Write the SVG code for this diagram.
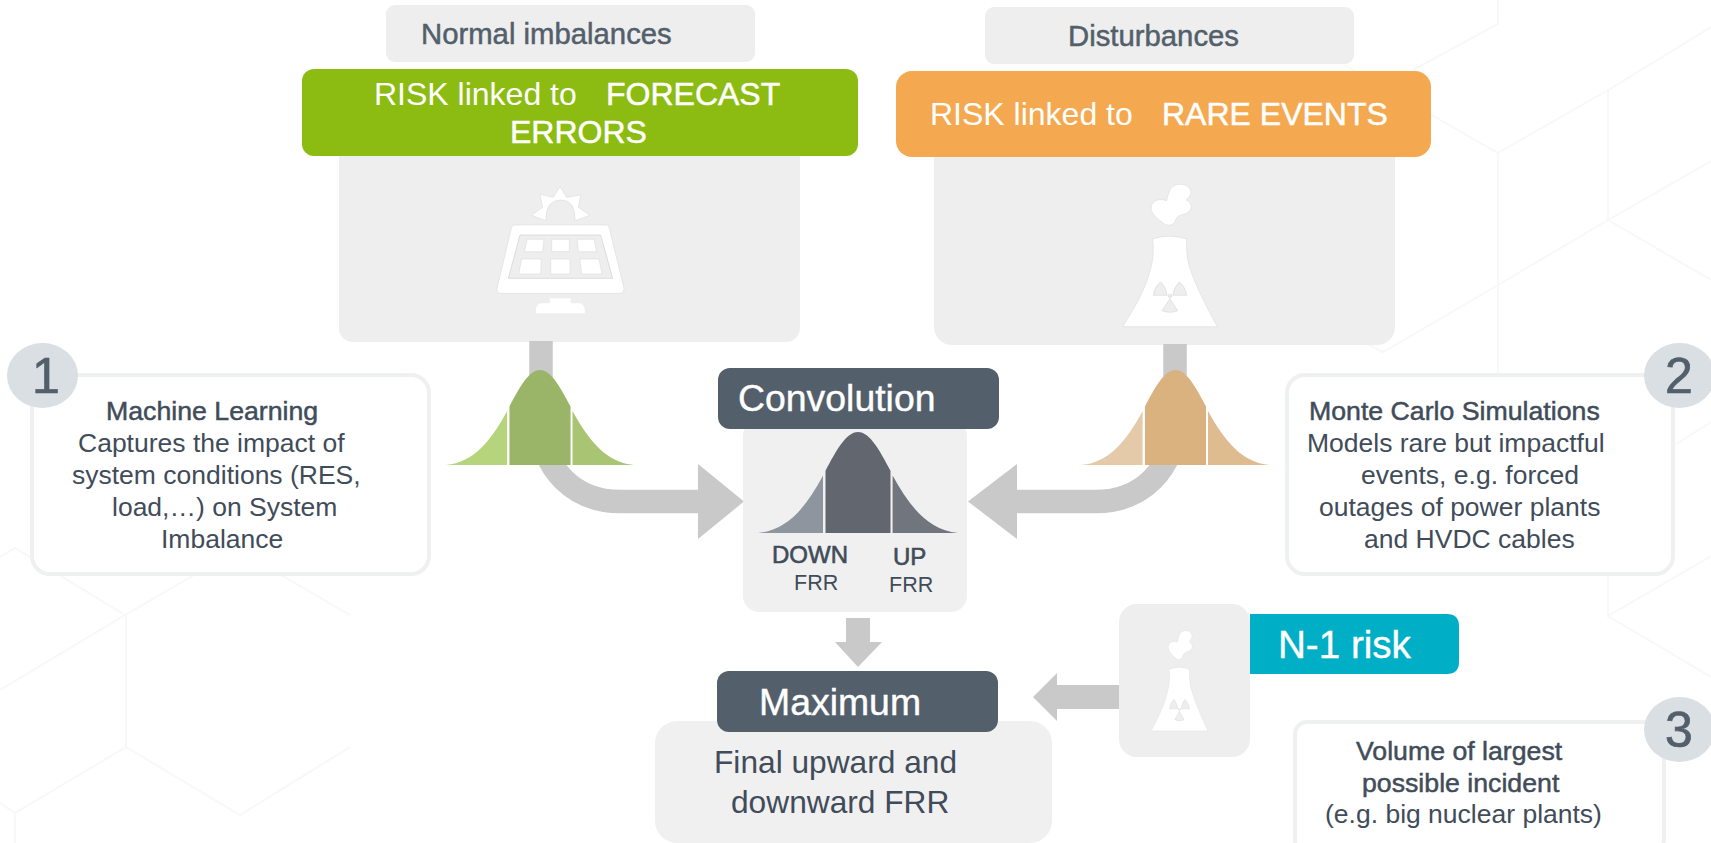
<svg xmlns="http://www.w3.org/2000/svg" xmlns:xlink="http://www.w3.org/1999/xlink" width="1711" height="843" viewBox="0 0 1711 843">
<style>
text{font-family:"Liberation Sans",Arial,sans-serif;white-space:pre}
.hex{fill:none;stroke:#f8f8f8;stroke-width:2}
.panel{fill:#eeeeee}
.panel2{fill:#f0f0f0}
.dark{fill:#535f6b}
.card{fill:#fff;stroke:#eff0f0;stroke-width:4}
.badge{fill:#d9dfe2}
.num{font-size:50px;fill:#535f6b;stroke:#535f6b;stroke-width:.7}
.w32{font-size:32px;fill:#fff}
.wb{stroke:#fff;stroke-width:.5}
.hd{font-size:37.400px;fill:#fff;stroke:#fff;stroke-width:.4}
.sub{font-size:29.300px;fill:#535f6b;stroke:#535f6b;stroke-width:.5}
.t{font-size:26.500px;fill:#414c5a}
.tb{font-size:26.700px;fill:#414c5a;stroke:#414c5a;stroke-width:.5}
.big{font-size:31.700px;fill:#414c5a}
.lab{font-size:24px;fill:#414c5a;stroke:#414c5a;stroke-width:.6}
.frr{font-size:21.500px;fill:#414c5a}
.band{fill:none;stroke:#c9c9c9;stroke-width:23.500}
.head{fill:#c9c9c9}
.ico{fill:#fff;stroke:#d6d6d6;stroke-width:1.500}
.cut{fill:#eeeeee;stroke:#d0d0d0;stroke-width:1.500}
</style>
<defs>
<path id="bl" d="M-100 0C-70-3-52-26-35-57.500V0Z"/>
<path id="bc" d="M-32.500 0V-62.200C-22-82-12-101 0-101S22-82 32.500-62.200V0Z"/>
<path id="br" d="M100 0C70-3 52-26 34.600-57.500V0Z"/>
<g id="nuke">
<path class="ico" d="M180 60C185 45 205 40 225 45C245 52 250 75 228 90C250 100 250 125 220 133C200 138 198 145 195 155C190 168 165 170 155 155C135 140 118 125 125 105C130 90 150 85 170 92C172 80 175 70 180 60Z"/>
<path class="ico" d="M128 207Q178 190 230 207C228 240 232 280 245 310C265 365 295 420 322 470H38C70 420 105 360 118 310C130 275 132 240 128 207Z"/>
<path class="cut" d="M130 376Q133 350 152 336Q168 350 172 376Z"/>
<path class="cut" d="M188 376Q192 350 208 336Q226 350 230 376Z"/>
<path class="cut" d="M180 386L203 422Q180 432 156 422Z"/>
<circle class="cut" cx="180" cy="378" r="5"/>
</g>
</defs>
<rect width="1711" height="843" fill="#fff"/>
<g id="background">
<path class="hex" d="M0 557L15 548L125 615L194 575M281 575L350 615M125 615L0 690M126 615V747L15 813V843M0 803L15 813M126 747L240 815L350 747"/>
<path class="hex" d="M1498 0V24L1413 70M1711 27L1610 89L1498 153L1344 65M1498 153V374M1608 89V220L1711 161M1608 220L1498 285L1383 352L1367 344M1608 220L1711 280M1673 446L1711 422M1608 575V616L1711 556M1608 616L1711 677"/>
</g>
<g id="panel-solar"><rect class="panel" x="339" y="120" width="461" height="222" rx="14"/></g>
<g id="panel-nuclear"><rect class="panel" x="934" y="120" width="461" height="225" rx="18"/></g>
<g id="connectors">
<path class="band" d="M541 341V420C541 470 575 501.500 620 501.500H700"/>
<polygon class="head" points="698,464 744,501.500 698,539"/>
<path class="band" d="M1175 344V420C1175 470 1141 501.500 1096 501.500H1015"/>
<polygon class="head" points="1017,464 968,501.500 1017,539"/>
<polygon class="head" points="846,618 870,618 870,642 882,642 858,667 835,642 846,642"/>
<polygon class="head" points="1119,685 1057,685 1057,673 1033,697 1057,721 1057,709 1119,709"/>
</g>
<g id="node-normal"><rect class="panel" x="386" y="5" width="369" height="57" rx="9"/><text class="sub" x="421" y="44">Normal imbalances</text></g>
<g id="node-forecast"><rect x="302" y="69" width="556" height="87" rx="12" fill="#8cbc12"/>
<text class="w32" x="374" y="105">RISK linked to</text><text class="w32 wb" x="606" y="105">FORECAST</text><text class="w32 wb" x="510" y="143">ERRORS</text></g>
<g id="icon-solar" transform="translate(470 170) scale(.33333)">
<path class="ico" d="M228 152L185 136L218 112L210 73L250 82L270 50L290 82L332 75L325 112L360 136L315 152Q318 90 272 90Q226 90 228 152Z"/>
<path class="ico" d="M135 165H408Q416 165 418 175L462 355Q462 370 450 370H92Q80 370 81 355L124 175Q126 165 135 165Z"/>
<polygon points="150,195 392,195 428,325 115,325" fill="#eee" stroke="#d0d0d0" stroke-width="2"/>
<g class="ico">
<polygon points="172,208 222,208 218,245 163,245"/><polygon points="245,208 298,208 298,245 245,245"/><polygon points="322,208 372,208 380,245 325,245"/>
<polygon points="155,267 214,267 212,312 146,312"/><polygon points="242,267 300,267 300,312 242,312"/><polygon points="330,267 387,267 396,312 335,312"/>
</g>
<path d="M240 385H302V400H330Q345 402 345 430H197Q197 402 212 400H240Z" fill="#fff"/>
</g>
<g id="node-disturbances"><rect class="panel" x="985" y="7" width="369" height="57" rx="9"/><text class="sub" x="1068" y="46">Disturbances</text></g>
<g id="node-rare"><rect x="896" y="71" width="535" height="86" rx="16" fill="#f4a951"/>
<text class="w32" x="930" y="125">RISK linked to</text><text class="w32 wb" x="1162" y="125">RARE EVENTS</text></g>
<g id="icon-nuclear" transform="translate(1110 170) scale(.33333)"><use href="#nuke"/></g>
<g id="bell-green" transform="translate(540 465) scale(.94)"><use href="#bl" fill="#b5d47c"/><use href="#bc" fill="#9ab567"/><use href="#br" fill="#a9c574"/></g>
<g id="bell-orange" transform="translate(1175.500 465) scale(.94)"><use href="#bl" fill="#e5caaa"/><use href="#bc" fill="#d9b27f"/><use href="#br" fill="#dfbb90"/></g>
<g id="node-convolution"><rect class="panel2" x="743" y="420" width="224" height="192" rx="16"/><rect class="dark" x="718" y="368" width="281" height="61" rx="12"/><text class="hd" x="738" y="411">Convolution</text>
<g transform="translate(858 533)"><use href="#bl" fill="#8f959e"/><use href="#bc" fill="#62676f"/><use href="#br" fill="#71767e"/></g>
<text class="lab" x="772" y="563">DOWN</text><text class="lab" x="893" y="565">UP</text><text class="frr" x="794" y="590">FRR</text><text class="frr" x="889" y="592">FRR</text></g>
<g id="node-maximum"><rect class="panel2" x="655" y="721" width="397" height="122" rx="22"/><rect class="dark" x="717" y="671" width="281" height="61" rx="12"/><text class="hd" x="759" y="715">Maximum</text>
<text class="big" x="714" y="773">Final upward and</text><text class="big" x="731" y="813">downward FRR</text></g>
<g id="node-n1"><rect class="panel" x="1119" y="604" width="131" height="153" rx="18"/><g transform="translate(1143.500 620.500) scale(.2 .235)"><use href="#nuke"/></g>
<path d="M1250 614H1447Q1459 614 1459 626V662Q1459 674 1447 674H1250Z" fill="#00afc6"/><text x="1278" y="658" font-size="38.600" fill="#fff" stroke="#fff" stroke-width=".4">N-1 risk</text></g>
<g id="card-1"><rect class="card" x="32" y="375" width="397" height="199" rx="18"/><ellipse class="badge" cx="42.500" cy="375.500" rx="35.500" ry="32.500"/><text class="num" x="32" y="393">1</text>
<text class="tb" x="106" y="420">Machine Learning</text><text class="t" x="78" y="452">Captures the impact of</text><text class="t" x="72" y="484">system conditions (RES,</text><text class="t" x="112" y="516">load,…) on System</text><text class="t" x="161" y="548">Imbalance</text></g>
<g id="card-2"><rect class="card" x="1287" y="375" width="386" height="199" rx="18"/><ellipse class="badge" cx="1679.500" cy="375.500" rx="35.500" ry="32.500"/><text class="num" x="1665" y="393">2</text>
<text class="tb" x="1309" y="420">Monte Carlo Simulations</text><text class="t" x="1307" y="452">Models rare but impactful</text><text class="t" x="1361" y="484">events, e.g. forced</text><text class="t" x="1319" y="516">outages of power plants</text><text class="t" x="1364" y="548">and HVDC cables</text></g>
<g id="card-3"><rect class="card" x="1295" y="722" width="369" height="130" rx="12"/><ellipse class="badge" cx="1679.500" cy="729.500" rx="35.500" ry="32.500"/><text class="num" x="1665" y="747">3</text>
<text class="tb" x="1356" y="760">Volume of largest</text><text class="tb" x="1362" y="792">possible incident</text><text class="t" x="1325" y="823">(e.g. big nuclear plants)</text></g>
</svg>
